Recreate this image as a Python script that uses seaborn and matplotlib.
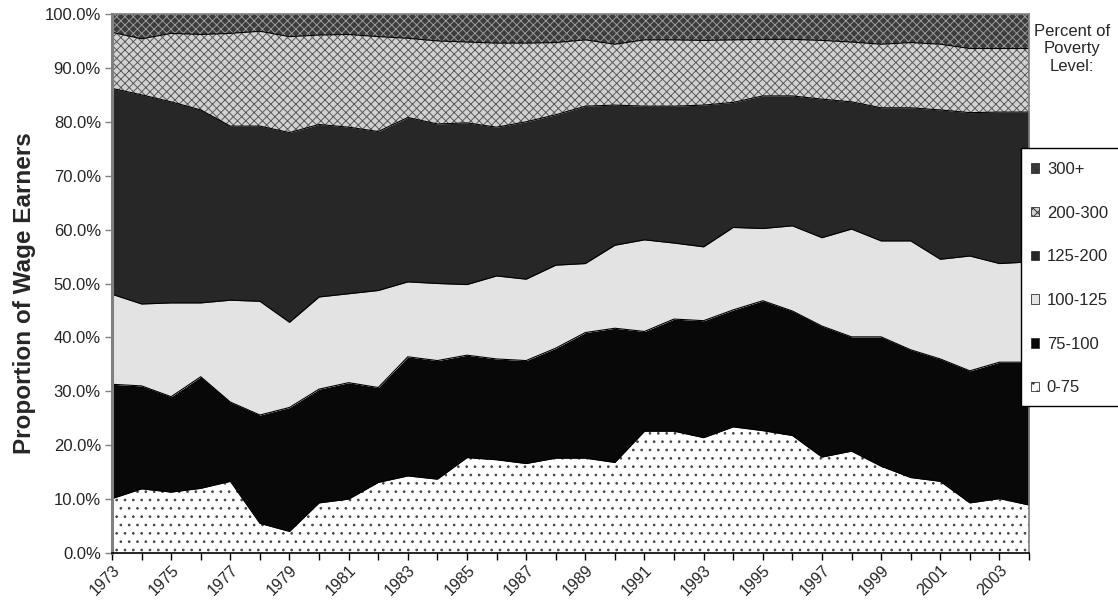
import numpy as np
import pandas as pd
import matplotlib
matplotlib.use("Agg")
import matplotlib.pyplot as plt
from matplotlib.patches import Patch, Rectangle
from matplotlib.ticker import FuncFormatter, MultipleLocator
from matplotlib.transforms import ScaledTranslation
import seaborn as sns

years = list(range(1973, 2005))
categories = ["0-75", "75-100", "100-125", "125-200", "200-300", "300+"]

pov_0_75 = [10.1, 11.9, 11.3, 12.0, 13.3, 5.5, 4.0, 9.3, 10.0, 13.1, 14.3, 13.7, 17.7, 17.3, 16.6, 17.6,
            17.6, 16.8, 22.6, 22.6, 21.4, 23.4, 22.7, 21.8, 17.8, 18.9, 16.1, 14.0, 13.3, 9.3, 10.1, 8.9]
pov_75_100 = [21.2, 19.1, 17.7, 20.7, 14.7, 20.1, 23.0, 21.1, 21.6, 17.6, 22.1, 22.0, 19.0, 18.7, 19.1, 20.4,
              23.3, 24.9, 18.5, 20.8, 21.7, 21.7, 24.1, 23.1, 24.3, 21.2, 24.0, 23.7, 22.7, 24.5, 25.3, 26.5]
pov_100_125 = [16.7, 15.2, 17.4, 13.7, 18.9, 21.1, 15.8, 17.1, 16.5, 18.0, 13.9, 14.3, 13.1, 15.4, 15.1, 15.4,
               12.8, 15.4, 17.0, 14.1, 13.7, 15.3, 13.4, 15.8, 16.4, 20.0, 17.8, 20.2, 18.5, 21.3, 18.3, 18.6]
pov_125_200 = [38.2, 38.8, 37.3, 35.8, 32.3, 32.5, 35.2, 32.0, 30.9, 29.5, 30.5, 29.6, 30.0, 27.6, 29.2, 27.9,
               29.2, 26.0, 24.8, 25.4, 26.3, 23.2, 24.6, 24.1, 25.7, 23.6, 24.7, 24.7, 27.7, 26.6, 28.1, 27.8]
pov_200_300 = [10.4, 10.4, 12.7, 14.0, 17.2, 17.6, 17.8, 16.6, 17.2, 17.6, 14.7, 15.4, 15.0, 15.6, 14.6, 13.4,
               12.3, 11.3, 12.3, 12.3, 12.0, 11.6, 10.5, 10.5, 10.9, 11.1, 11.8, 12.1, 12.2, 11.9, 11.8, 11.8]
pov_300_plus = [3.4, 4.6, 3.6, 3.8, 3.6, 3.2, 4.2, 3.9, 3.8, 4.2, 4.5, 5.0, 5.2, 5.4, 5.4, 5.3,
                4.8, 5.6, 4.8, 4.8, 4.9, 4.8, 4.7, 4.7, 4.9, 5.2, 5.6, 5.3, 5.6, 6.4, 6.4, 6.4]

tick_labels = [str(y) if (y - 1973) % 2 == 0 else "" for y in years]

series = [pov_0_75, pov_75_100, pov_100_125, pov_125_200, pov_200_300, pov_300_plus]

sns.set_style("white")
plt.rcParams["font.family"] = ["Liberation Sans", "DejaVu Sans"]
plt.rcParams["hatch.linewidth"] = 0.7

styles = [
    dict(facecolor="white", edgecolor="#444444", hatch=".."),
    dict(facecolor="#080808", edgecolor="#080808", hatch=None),
    dict(facecolor="#e3e3e3", edgecolor="#e3e3e3", hatch=None),
    dict(facecolor="#272727", edgecolor="#272727", hatch=None),
    dict(facecolor="#d2d2d2", edgecolor="#5a5a5a", hatch="xxxx"),
    dict(facecolor="#3c3c3c", edgecolor="#9a9a9a", hatch="xxxx"),
]

W, H = 1118, 607
fig = plt.figure(figsize=(W / 100, H / 100), dpi=100)
ax = fig.add_axes([112 / W, 54 / H, (1029 - 112) / W, (553 - 14) / H])

x = np.array(years, dtype=float)
cum = np.vstack([np.zeros(len(years)), np.cumsum(np.array(series), axis=0)])
for i, st in enumerate(styles):
    ax.fill_between(x, cum[i], cum[i + 1], facecolor=st["facecolor"], edgecolor=st["edgecolor"],
                    hatch=st["hatch"], linewidth=0)

# boundary lines between layers
rows = []
for i in range(1, len(series)):
    for yr, v in zip(years, cum[i]):
        rows.append({"year": yr, "value": v, "layer": categories[i - 1]})
df = pd.DataFrame(rows)
sns.lineplot(data=df, x="year", y="value", units="layer", estimator=None, color="black",
             linewidth=0.8, ax=ax, legend=False)

ax.set_xlim(1973, 2004)
ax.set_ylim(0, 100)
ax.set_xticks(years)
ax.set_xticklabels(tick_labels, rotation=45, ha="right", va="top", rotation_mode="anchor", fontsize=11.5)
shift = ScaledTranslation(-14 / 100, -8 / 100, fig.dpi_scale_trans)
for lab in ax.get_xticklabels():
    lab.set_transform(lab.get_transform() + shift)
ax.yaxis.set_major_locator(MultipleLocator(10))
ax.yaxis.set_major_formatter(FuncFormatter(lambda v, p: f"{v:.1f}%"))
ax.tick_params(axis="y", labelsize=12, length=5, width=1, color="#808080", direction="out", pad=3)
ax.tick_params(axis="x", length=5, width=1, color="black", direction="out", pad=2)
ax.tick_params(left=True, bottom=True)
ax.set_xlabel("")
ax.set_ylabel("Proportion of Wage Earners", fontsize=17.5, fontweight="bold")
ax.yaxis.set_label_coords((36 - 112) / 917, 0.5 - 10 / 539)

for side in ["top", "right"]:
    ax.spines[side].set_color("#808080")
    ax.spines[side].set_linewidth(1.2)
ax.spines["left"].set_color("#808080")
ax.spines["left"].set_linewidth(2.2)
ax.spines["bottom"].set_color("black")
ax.spines["bottom"].set_linewidth(1.2)

# legend frame (extends past the right edge, as in the original)
frame = Rectangle((1020.5 / W, 1 - 406 / H), 110 / W, (406 - 148.3) / H, transform=fig.transFigure,
                  facecolor="white", edgecolor="black", linewidth=1.0, zorder=4)
fig.patches.append(frame)

handles = [Patch(facecolor=st["facecolor"], edgecolor="#333333", hatch=st["hatch"], linewidth=0.6)
           for st in styles]
leg = fig.legend(handles[::-1], categories[::-1], loc="upper left",
                 bbox_to_anchor=(1031 / W, 1 - 162 / H), frameon=False, fontsize=12,
                 handlelength=0.5, handleheight=0.5, handletextpad=0.45, labelspacing=1.72,
                 borderpad=0, borderaxespad=0)
leg.set_zorder(5)

fig.text(1072 / W, 1 - 24 / H, "Percent of\nPoverty\nLevel:", ha="center", va="top",
         fontsize=12, linespacing=1.2)

fig.savefig("out.png", dpi=100)
